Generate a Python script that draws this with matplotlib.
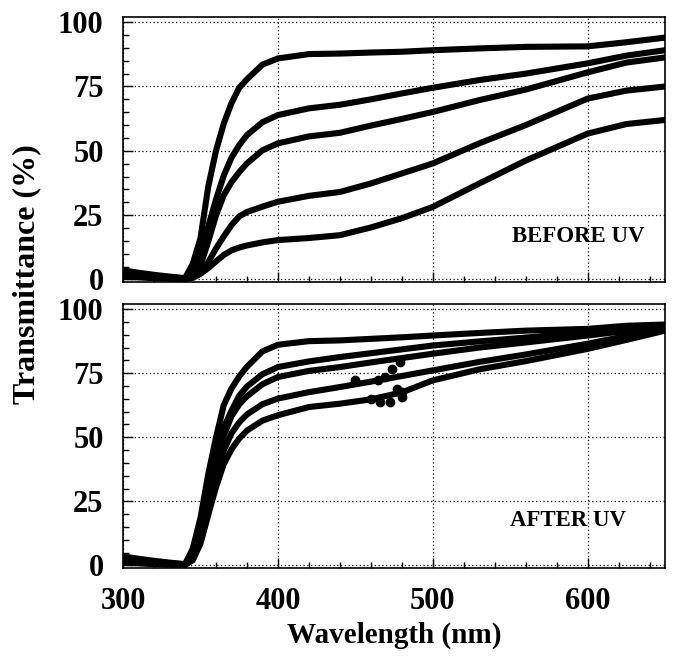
import matplotlib
matplotlib.use('Agg')
import matplotlib.pyplot as plt
from matplotlib.ticker import MultipleLocator

plt.rcParams['font.family'] = ['Liberation Serif', 'DejaVu Serif']
plt.rcParams['font.weight'] = 'bold'

# Wavelength grid (nm) at which the transmittance curves were read
wavelength = [300, 310, 320, 330, 340, 345, 350, 355, 360, 365, 370, 375, 380,
              390, 400, 420, 440, 460, 480, 500, 530, 560, 600, 625, 650]

# BEFORE UV transmittance (%), five samples, top to bottom
before_a = [3.5, 2.6, 1.8, 1.1, 0.5, 6.0, 16.0, 36.0, 50.0, 60.5, 68.5, 74.5, 77.8,
            83.5, 85.9, 87.6, 87.8, 88.2, 88.5, 89.1, 89.8, 90.4, 90.6, 92.2, 94.0]
before_b = [2.8, 2.1, 1.4, 0.9, 0.4, 2.5, 10.0, 20.5, 31.0, 40.3, 47.3, 52.2, 56.1,
            61.1, 63.9, 66.5, 67.9, 70.0, 72.3, 74.5, 77.5, 80.0, 84.0, 87.0, 89.1]
before_c = [2.2, 1.6, 1.1, 0.7, 0.3, 1.5, 5.5, 14.7, 24.8, 32.7, 37.8, 41.7, 45.1,
            50.2, 52.9, 55.6, 57.0, 59.8, 62.4, 65.1, 69.7, 73.8, 80.5, 84.3, 86.3]
before_d = [1.6, 1.2, 0.8, 0.5, 0.3, 0.8, 2.5, 6.7, 12.0, 16.7, 21.1, 24.5, 26.2,
            28.3, 30.2, 32.5, 34.0, 37.3, 41.2, 45.1, 52.9, 60.0, 70.3, 73.4, 75.0]
before_e = [1.0, 0.8, 0.5, 0.3, 0.2, 0.6, 2.2, 4.4, 7.0, 9.5, 11.3, 12.4, 13.2,
            14.4, 15.3, 16.1, 17.2, 20.2, 23.8, 28.2, 37.3, 46.2, 56.7, 60.4, 62.0]

# AFTER UV transmittance (%), five samples, top to bottom
after_a = [3.5, 2.6, 1.8, 1.1, 0.5, 6.5, 18.5, 35.5, 49.8, 62.5, 69.0, 73.7, 77.5,
           83.5, 86.1, 87.5, 87.8, 88.4, 89.0, 89.7, 90.7, 91.6, 92.3, 93.5, 94.0]
after_b = [2.8, 2.1, 1.4, 0.9, 0.4, 3.5, 14.0, 28.3, 43.2, 53.8, 60.3, 66.2, 69.8,
           74.6, 77.4, 79.6, 81.3, 82.8, 84.3, 85.8, 87.4, 88.9, 91.0, 92.0, 93.0]
after_c = [2.2, 1.6, 1.1, 0.7, 0.3, 3.0, 12.5, 27.4, 40.5, 50.5, 58.2, 62.8, 66.0,
           70.7, 73.5, 75.9, 77.4, 79.2, 80.9, 82.6, 85.0, 87.0, 89.7, 91.5, 93.5]
after_d = [1.6, 1.2, 0.8, 0.5, 0.3, 2.5, 10.5, 23.4, 35.6, 44.8, 51.5, 55.8, 58.9,
           62.9, 65.1, 67.6, 69.6, 71.7, 73.9, 76.1, 79.4, 82.3, 86.5, 89.5, 92.3]
after_e = [1.0, 0.8, 0.5, 0.3, 0.2, 2.0, 8.5, 19.7, 30.5, 39.5, 45.3, 49.5, 52.6,
           56.5, 58.6, 61.8, 63.1, 64.8, 67.5, 72.2, 76.5, 79.7, 84.5, 88.0, 91.6]

# scattered noisy points around 450-480 nm in the AFTER UV panel
noise_wl = [449.7, 460.4, 464.7, 465.8, 469.0, 472.3, 473.4, 476.6, 478.7, 479.8, 479.8]
noise_t = [72.2, 65.0, 72.2, 63.7, 73.7, 63.7, 76.7, 69.0, 79.3, 65.7, 67.6]

panels = [
    ([before_a, before_b, before_c, before_d, before_e], 'BEFORE UV', (594, 16.8)),
    ([after_a, after_b, after_c, after_d, after_e], 'AFTER UV', (587, 17.5)),
]

fig = plt.figure(figsize=(6.73, 6.6), dpi=100)
ax_top = fig.add_axes([0.1828, 0.5727, 0.8055, 0.4015])
ax_bot = fig.add_axes([0.1828, 0.1394, 0.8055, 0.4000])

for ax, (curves, label, pos) in zip([ax_top, ax_bot], panels):
    for t in curves:
        ax.plot(wavelength, t, color='black', lw=4.4,
                solid_capstyle='round', solid_joinstyle='round', zorder=3)
    ax.text(pos[0], pos[1], label, ha='center', va='center', fontsize=16.5,
            fontweight='bold', zorder=4)

    ax.set_xlim(300, 650)
    ax.set_ylim(-1, 102)
    ax.xaxis.set_major_locator(MultipleLocator(100))
    ax.xaxis.set_minor_locator(MultipleLocator(20))
    ax.yaxis.set_major_locator(MultipleLocator(25))
    ax.yaxis.set_minor_locator(MultipleLocator(5))
    ax.grid(True, which='major', color='black', linestyle=(0, (1, 2)), lw=0.9)
    ax.tick_params(which='both', direction='in', top=False, right=False,
                   labelsize=22, width=1)
    ax.tick_params(which='major', length=7, pad=14)
    ax.tick_params(which='minor', length=4)
    for s in ax.spines.values():
        s.set_linewidth(1.2)

ax_bot.plot(noise_wl, noise_t, 'o', color='black', ms=6, zorder=3)

ax_top.tick_params(labelbottom=False)
for ax in [ax_top, ax_bot]:
    for lab in ax.get_xticklabels() + ax.get_yticklabels():
        lab.set_fontweight('bold')

ax_bot.set_xlabel('Wavelength (nm)', fontsize=21, fontweight='bold', labelpad=4)
fig.text(0.040, 0.585, 'Transmittance (%)', rotation=90, ha='center', va='center',
         fontsize=23, fontweight='bold')

plt.savefig('out.png', dpi=100)
